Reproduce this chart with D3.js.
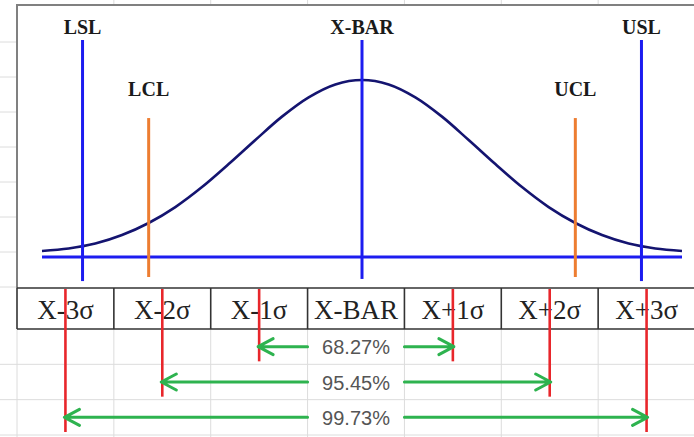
<!DOCTYPE html>
<html>
<head>
<meta charset="utf-8">
<script src="https://cdn.jsdelivr.net/npm/d3@7"></script>
<style>
  html, body { margin: 0; padding: 0; background: #fff; }
  svg { display: block; }
</style>
</head>
<body>
<svg id="chart" width="694" height="437"></svg>
<script>
// Bell curve, x in units of sigma from the mean, y as percent of the peak height
const curveX = [-3, -2.75, -2.5, -2.25, -2, -1.75, -1.5, -1.25, -1, -0.75, -0.5, -0.25, 0,
                0.25, 0.5, 0.75, 1, 1.25, 1.5, 1.75, 2, 2.25, 2.5, 2.75, 3];
const curveY = [3.4, 4.8, 7.6, 12.4, 19.2, 28.2, 39.5, 52.5, 66.1, 79.3, 90.2, 97.5, 100,
                97.5, 90.2, 79.3, 66.1, 52.5, 39.5, 28.2, 19.2, 12.4, 7.6, 4.8, 3.4];

// Specification / control limits and the process mean
const limitNames  = ["LSL", "LCL", "X-BAR", "UCL", "USL"];
const limitValues = [-2.62, -2, 0, 2, 2.62];
const limitKinds  = ["spec", "control", "center", "control", "spec"];

// Sigma table under the chart
const bandLabels = ["X-3σ", "X-2σ", "X-1σ", "X-BAR", "X+1σ", "X+2σ", "X+3σ"];
const bandSigma  = [-3, -2, -1, 0, 1, 2, 3];

// Share of values inside ±k sigma
const coverageLabels = ["68.27%", "95.45%", "99.73%"];
const coverageSigma  = [1, 2, 3];

const svg = d3.select("#chart");
const W = 694, H = 437;

const x = d3.scaleLinear().domain([-3, 3]).range([42, 682]);
const y = d3.scaleLinear().domain([0, 100]).range([257, 80]);
const band = d3.scaleBand().domain(bandLabels).range([17, 695]);
const row = d3.scaleBand().domain(coverageLabels).range([329, 435]);

const tableTop = 288, tableBottom = 329;
const gridColor = "#dcdcdc";

// ---- worksheet grid behind everything ----
const grid = svg.append("g").attr("stroke", gridColor).attr("stroke-width", 1);
const colEdges = bandLabels.map(d => band(d)).concat([band.range()[1]]);
// columns above the chart frame
colEdges.slice(1).forEach(cx => {
  grid.append("line").attr("x1", cx).attr("x2", cx).attr("y1", 0).attr("y2", 5);
});
// rows to the left of the chart frame
d3.range(42, 288, 35).forEach(ry => {
  grid.append("line").attr("x1", 0).attr("x2", 17).attr("y1", ry).attr("y2", ry);
});
// rows and columns below the table
coverageLabels.forEach(c => {
  const ry = row(c) + row.bandwidth();
  grid.append("line").attr("x1", 0).attr("x2", W).attr("y1", ry).attr("y2", ry);
});
colEdges.forEach(cx => {
  grid.append("line").attr("x1", cx).attr("x2", cx).attr("y1", tableBottom).attr("y2", H);
});

// ---- chart frame ----
svg.append("path")
  .attr("d", `M17,${tableTop} L17,5 L${W},5`)
  .attr("fill", "none").attr("stroke", "#808080").attr("stroke-width", 2);

// ---- base line under the curve ----
svg.append("line")
  .attr("x1", x(-3)).attr("x2", x(3))
  .attr("y1", y(0)).attr("y2", y(0))
  .attr("stroke", "#1c1cf0").attr("stroke-width", 3);

// ---- bell curve ----
const curvePts = curveX.map((v, i) => [v, curveY[i]]);
svg.append("path")
  .datum(curvePts)
  .attr("d", d3.line().x(d => x(d[0])).y(d => y(d[1])).curve(d3.curveCatmullRom))
  .attr("fill", "none").attr("stroke", "#141470").attr("stroke-width", 2.6);

// ---- limit lines and their labels ----
const extent = {
  spec:    { top: 122.6, bottom: -13.6, label: 126, color: "#1c1cf0" },
  center:  { top: 122.6, bottom: -12.4, label: 126, color: "#1c1cf0" },
  control: { top: 78.5,  bottom: -11.3, label: 91,  color: "#ed7d31" }
};
const limits = limitNames.map((n, i) => ({ name: n, value: limitValues[i], kind: limitKinds[i] }));
const lg = svg.append("g");
lg.selectAll("line").data(limits).join("line")
  .attr("x1", d => x(d.value)).attr("x2", d => x(d.value))
  .attr("y1", d => y(extent[d.kind].top)).attr("y2", d => y(extent[d.kind].bottom))
  .attr("stroke", d => extent[d.kind].color).attr("stroke-width", 3);
lg.selectAll("text").data(limits).join("text")
  .attr("x", d => x(d.value)).attr("y", d => y(extent[d.kind].label))
  .attr("text-anchor", "middle")
  .attr("font-family", "'Liberation Serif', 'Times New Roman', serif")
  .attr("font-weight", "bold").attr("font-size", 20).attr("fill", "#1a1a1a")
  .text(d => d.name);

// ---- sigma table ----
const tg = svg.append("g");
tg.selectAll("text").data(bandLabels).join("text")
  .attr("x", d => band(d) + band.bandwidth() / 2)
  .attr("y", 319)
  .attr("text-anchor", "middle")
  .attr("font-family", "'Liberation Serif', 'Times New Roman', serif")
  .attr("font-size", 27).attr("fill", "#222")
  .text(d => d);
const border = tg.append("g").attr("stroke", "#333").attr("stroke-width", 1.6);
border.append("line").attr("x1", 17).attr("x2", W).attr("y1", tableTop).attr("y2", tableTop);
border.append("line").attr("x1", 17).attr("x2", W).attr("y1", tableBottom).attr("y2", tableBottom);
colEdges.forEach(cx => {
  border.append("line").attr("x1", cx).attr("x2", cx).attr("y1", tableTop).attr("y2", tableBottom);
});

// ---- red markers at each sigma, reaching down to their coverage row ----
const markers = bandLabels.map((l, i) => ({ label: l, sigma: bandSigma[i] })).filter(d => d.sigma !== 0);
const bottomFor = s => {
  const k = coverageSigma.indexOf(Math.abs(s));
  const lab = coverageLabels[k];
  return row(lab) + row.bandwidth() - 3;
};
svg.append("g").selectAll("line").data(markers).join("line")
  .attr("x1", d => band(d.label) + band.bandwidth() / 2)
  .attr("x2", d => band(d.label) + band.bandwidth() / 2)
  .attr("y1", tableTop + 1).attr("y2", d => bottomFor(d.sigma))
  .attr("stroke", "#e8262b").attr("stroke-width", 2.6);

// ---- coverage labels with arrows out to ±k sigma ----
const sigmaX = s => {
  const lab = bandLabels[bandSigma.indexOf(s)];
  return band(lab) + band.bandwidth() / 2;
};
const mid = "X-BAR";
const cg = svg.append("g");
coverageLabels.forEach((lab, i) => {
  const k = coverageSigma[i];
  const cy = row(lab) + row.bandwidth() / 2;
  cg.append("text")
    .attr("x", band(mid) + band.bandwidth() / 2)
    .attr("y", cy + 7.5)
    .attr("text-anchor", "middle")
    .attr("font-family", "'Liberation Sans', Arial, sans-serif")
    .attr("font-size", 20).attr("fill", "#555")
    .text(lab);
  const arrows = [
    { from: band(mid), to: sigmaX(-k), dir: -1 },
    { from: band(mid) + band.bandwidth(), to: sigmaX(k), dir: 1 }
  ];
  arrows.forEach(a => {
    const tip = a.to + a.dir * 1;
    cg.append("path")
      .attr("d", `M${a.from},${cy} L${tip},${cy} M${tip - a.dir * 15},${cy - 8} L${tip},${cy} L${tip - a.dir * 15},${cy + 8}`)
      .attr("fill", "none").attr("stroke", "#2eb34f").attr("stroke-width", 3)
      .attr("stroke-linecap", "round").attr("stroke-linejoin", "round");
  });
});
</script>
</body>
</html>
